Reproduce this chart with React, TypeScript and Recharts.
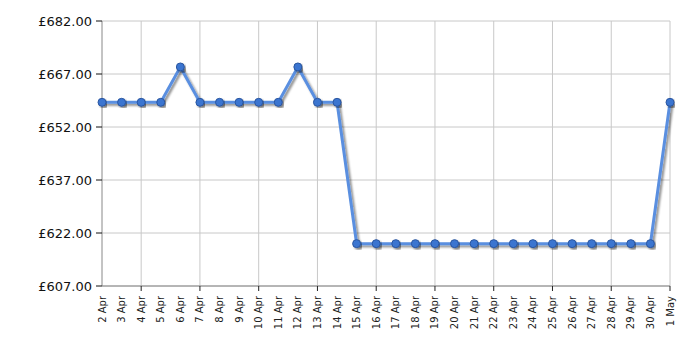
import { LineChart, Line, XAxis, YAxis, CartesianGrid, ReferenceLine } from 'recharts';

const days = [
  '2 Apr', '3 Apr', '4 Apr', '5 Apr', '6 Apr', '7 Apr', '8 Apr', '9 Apr', '10 Apr', '11 Apr',
  '12 Apr', '13 Apr', '14 Apr', '15 Apr', '16 Apr', '17 Apr', '18 Apr', '19 Apr', '20 Apr', '21 Apr',
  '22 Apr', '23 Apr', '24 Apr', '25 Apr', '26 Apr', '27 Apr', '28 Apr', '29 Apr', '30 Apr', '1 May',
];

const prices = [
  658.99, 658.99, 658.99, 658.99, 668.99, 658.99, 658.99, 658.99, 658.99, 658.99,
  668.99, 658.99, 658.99, 618.99, 618.99, 618.99, 618.99, 618.99, 618.99, 618.99,
  618.99, 618.99, 618.99, 618.99, 618.99, 618.99, 618.99, 618.99, 618.99, 658.99,
];

const yTicks = [607, 622, 637, 652, 667, 682];
const gridDays = ['4 Apr', '7 Apr', '10 Apr', '13 Apr', '16 Apr', '19 Apr', '22 Apr', '25 Apr', '28 Apr', '1 May'];

const data = days.map((d, i) => ({ day: d, price: prices[i] }));

function DayTick({ x, y, payload }: any) {
  const marked = gridDays.includes(payload.value);
  return (
    <g>
      {marked && <line x1={x} x2={x} y1={y - 8} y2={y - 3} stroke="#222" strokeWidth={1} />}
      <text
        x={x}
        y={y + 2}
        transform={`rotate(-90 ${x} ${y + 2})`}
        textAnchor="end"
        dy={3.5}
        fontSize={10}
        fontFamily="DejaVu Sans"
        fill="#222"
      >
        {payload.value}
      </text>
    </g>
  );
}

export default function App() {
  return (
    <div style={{ position: 'absolute', left: 0, top: 0, background: '#fff' }}>
      <LineChart width={700} height={350} data={data} margin={{ top: 21, right: 30, bottom: 0, left: 0 }}>
        <defs>
          <filter id="shadow" x="-10%" y="-10%" width="120%" height="130%">
            <feDropShadow dx="2" dy="2" stdDeviation="1" floodColor="#000" floodOpacity="0.45" />
          </filter>
        </defs>
        <CartesianGrid vertical={false} stroke="#c8c8c8" />
        {gridDays.map((d) => (
          <ReferenceLine key={d} x={d} stroke="#c8c8c8" />
        ))}
        <XAxis
          dataKey="day"
          interval={0}
          tick={<DayTick />}
          tickLine={false}
          axisLine={{ stroke: '#888' }}
          height={64}
        />
        <YAxis
          domain={[607, 682]}
          ticks={yTicks}
          width={102}
          tickFormatter={(v: number) => `£${v.toFixed(2)}`}
          tick={{ fontSize: 13, fontFamily: 'DejaVu Sans', fill: '#111' }}
          tickLine={{ stroke: '#111' }}
          tickSize={6}
          tickMargin={4}
          axisLine={{ stroke: '#888' }}
        />
        <Line
          type="linear"
          dataKey="price"
          stroke="#5a8fe0"
          strokeWidth={3}
          dot={{ r: 4, fill: '#3b74d0', stroke: '#2a569f', strokeWidth: 1 }}
          style={{ filter: 'url(#shadow)' }}
          isAnimationActive={false}
        />
      </LineChart>
    </div>
  );
}
